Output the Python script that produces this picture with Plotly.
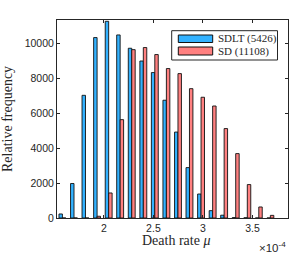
import plotly.graph_objects as go

# bin centres of death rate mu (units of 1e-4)
mu_bins = [1.581, 1.698, 1.814, 1.931, 2.048, 2.164, 2.281, 2.398, 2.514, 2.631,
           2.748, 2.864, 2.981, 3.098, 3.214, 3.331, 3.448, 3.564, 3.681]
sdlt_freq = [230, 1970, 7010, 10310, 11240, 10460, 9700, 8970, 8310, 6730,
             4910, 2880, 1370, 420, 160, 20, 10, 0, 0]
sd_freq = [0, 0, 0, 100, 1430, 5620, 9620, 9740, 9340, 8540,
           8250, 7390, 6900, 6400, 5110, 3680, 1910, 630, 150]
series_names = ["SDLT (5426)", "SD (11108)"]
series_colors = ["#33B2FF", "#FF8080"]
x_ticks = [2, 2.5, 3, 3.5]
y_ticks = [0, 2000, 4000, 6000, 8000, 10000]

W, H = 299, 257
L, R, T, B = 57, 11, 20, 39
pw, ph = W - L - R, H - T - B

def px(x):
    return (x - L) / pw

def py(y):
    return (H - B - y) / ph

fig = go.Figure()
for name, vals, col in zip(series_names, [sdlt_freq, sd_freq], series_colors):
    fig.add_trace(go.Bar(x=mu_bins, y=vals, name=name, showlegend=False, hoverinfo="skip",
                         marker=dict(color=col, line=dict(color="#111111", width=0.9))))

axcol = "#262626"
tickfont = dict(family="Liberation Sans, Arial", size=10.5, color=axcol)
fig.update_layout(
    width=W, height=H, margin=dict(l=L, r=R, t=T, b=B),
    paper_bgcolor="white", plot_bgcolor="white",
    barmode="group", bargap=0.4, bargroupgap=0,
    xaxis=dict(range=[1.5263, 3.859], tickvals=x_ticks, ticktext=[str(v) for v in x_ticks],
               ticks="inside", ticklen=3, tickcolor=axcol, showline=True, linecolor=axcol,
               linewidth=1, mirror="ticks", showgrid=False, zeroline=False, tickfont=tickfont),
    yaxis=dict(range=[0, 11314], tickvals=y_ticks, ticktext=[str(v) for v in y_ticks],
               ticks="inside", ticklen=3, tickcolor=axcol, showline=True, linecolor=axcol,
               linewidth=1, mirror="ticks", showgrid=False, zeroline=False, tickfont=tickfont),
)

serif = "Liberation Serif, Times New Roman, serif"
ann = []
ann.append(dict(text="Relative frequency", x=px(7), y=0.5, xref="paper", yref="paper",
                textangle=-90, showarrow=False, xanchor="center", yanchor="middle",
                font=dict(family=serif, size=14, color=axcol)))
ann.append(dict(text="Death rate <i>μ</i>", x=px(175.5), y=py(240), xref="paper", yref="paper",
                showarrow=False, xanchor="center", yanchor="middle",
                font=dict(family=serif, size=14, color=axcol)))
ann.append(dict(text="×10<sup>-4</sup>", x=1.0, y=py(247), xref="paper", yref="paper",
                showarrow=False, xanchor="right", yanchor="middle",
                font=dict(family="Liberation Sans, Arial", size=11.5, color=axcol)))

shapes = []
# legend box
shapes.append(dict(type="rect", xref="paper", yref="paper", x0=px(171.7), x1=px(277.5),
                   y0=py(60), y1=py(30.7), line=dict(color=axcol, width=1), fillcolor="white"))
rows = [(35, 42.5), (47, 55)]
for (y0, y1), name, col in zip(rows, series_names, series_colors):
    shapes.append(dict(type="rect", xref="paper", yref="paper", x0=px(178.3), x1=px(212.7),
                       y0=py(y1), y1=py(y0), line=dict(color="#111111", width=1), fillcolor=col))
    ann.append(dict(text=name, x=px(215.5), y=py((y0 + y1) / 2), xref="paper", yref="paper",
                    showarrow=False, xanchor="left", yanchor="middle",
                    font=dict(family=serif, size=11, color=axcol)))

fig.update_layout(annotations=ann, shapes=shapes)
fig.write_html("out.html", config={"displayModeBar": False},
               post_script="document.body.style.margin='0';document.body.style.padding='0';")
